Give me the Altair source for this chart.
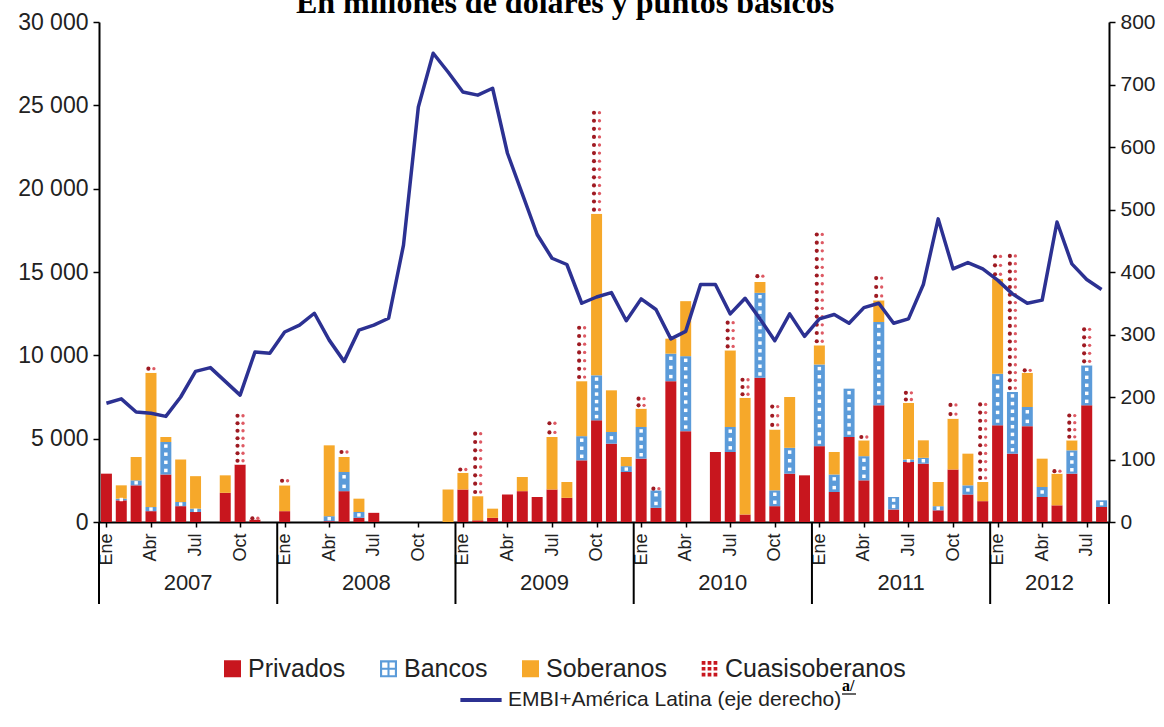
import altair as alt
import pandas as pd

# Monthly issues, Jan 2007 - Aug 2012 (millions of dollars)
privados = [
    2900, 1300, 2200, 650, 2850, 950, 600, 0, 1750, 3450, 150, 0,
    650, 0, 0, 50, 1850, 250, 550, 0, 0, 0, 0, 0,
    1950, 100, 250, 1650, 1850, 1500, 1950, 1450, 3700, 6100, 4700, 3000,
    3800, 850, 8450, 5450, 0, 4200, 4200, 450, 8650, 950, 2900, 2800,
    4550, 1800, 5100, 2500, 7000, 750, 3600, 3500, 700, 3150, 1650, 1250,
    5800, 4100, 5750, 1500, 1000, 2900, 7000, 900,
]
bancos = [
    0, 100, 300, 250, 1950, 250, 200, 0, 0, 0, 0, 0,
    0, 0, 0, 300, 1150, 350, 0, 0, 0, 0, 0, 0,
    0, 0, 0, 0, 0, 0, 0, 0, 1450, 2700, 700, 350,
    1900, 1050, 1650, 4500, 0, 0, 1500, 0, 5100, 950, 1550, 0,
    4900, 1050, 2900, 1450, 5000, 750, 150, 350, 250, 0, 550, 0,
    3100, 3700, 1150, 600, 0, 1400, 2400, 400,
]
soberanos = [
    0, 800, 1400, 8050, 300, 2550, 1950, 0, 1050, 0, 0, 0,
    1550, 0, 0, 4250, 900, 800, 0, 0, 0, 0, 0, 1950,
    1000, 1450, 550, 0, 850, 0, 3150, 950, 3300, 9700, 2500, 550,
    1100, 0, 900, 3300, 0, 0, 4600, 7000, 650, 3650, 3050, 0,
    1150, 1350, 0, 950, 1300, 0, 3400, 1050, 1450, 3050, 1900, 1150,
    5700, 0, 2050, 1700, 1900, 600, 0, 0,
]
cuasisoberanos = [
    0, 0, 0, 500, 0, 0, 0, 0, 0, 3150, 150, 0,
    550, 0, 0, 0, 600, 0, 0, 0, 0, 0, 0, 0,
    400, 4000, 0, 0, 0, 0, 1100, 0, 3450, 6300, 0, 0,
    800, 200, 0, 0, 0, 0, 1900, 1300, 700, 1650, 0, 0,
    6900, 0, 0, 400, 1600, 0, 800, 0, 0, 1100, 0, 4900,
    1600, 8400, 300, 0, 300, 1700, 2400, 0,
]
# EMBI+ Latin America spread (basis points, right axis)
embi = [
    190, 197, 176, 174, 169, 200, 241, 247, 225, 203, 272, 270,
    304, 315, 334, 291, 257, 307, 315, 326, 443, 664, 750, 720,
    688, 683, 694, 590, 525, 460, 422, 412, 350, 360, 367, 322,
    357, 340, 293, 305, 380, 380, 333, 358, 325, 290, 333, 297,
    325, 332, 318, 343, 350, 318, 325, 380, 485, 405, 415, 405,
    387, 365, 350, 355, 480, 413, 388, 372,
]
years = ["2007", "2008", "2009", "2010", "2011", "2012"]
month_labels = ["Ene", "Abr", "Jul", "Oct"]

SERIES = ["Privados", "Bancos", "Soberanos", "Cuasisoberanos"]
FILLS = {"Privados": "#C8161E", "Bancos": "#5B9BD9",
         "Soberanos": "#F6A82A", "Cuasisoberanos": "#FFFFFF"}
LINE_NAME = "EMBI+América Latina (eje derecho)"
FONT = "Liberation Sans"
SERIF = "Liberation Serif"
DOT_PITCH = 480  # spacing of pattern dots, in data units

n = len(privados)
bar_rows, bank_dots, quasi_dots = [], [], []
for i in range(n):
    base = 0
    for name, vals in zip(SERIES, [privados, bancos, soberanos, cuasisoberanos]):
        v = vals[i]
        if v <= 0:
            continue
        bar_rows.append(dict(serie=name, x0=i + 0.13, x1=i + 0.87,
                             y0=base, y1=base + v, fill=FILLS[name]))
        if name in ("Bancos", "Cuasisoberanos"):
            count = max(1, round(v / DOT_PITCH))
            for j in range(count):
                pt = dict(x0=i + 0.5, y0=base + (j + 0.5) * v / count)
                (bank_dots if name == "Bancos" else quasi_dots).append(pt)
        base += v

bars_df = pd.DataFrame(bar_rows)
bank_df = pd.DataFrame(bank_dots)
quasi_df = pd.DataFrame(quasi_dots)
line_df = pd.DataFrame({"x0": [i + 0.5 for i in range(n)], "embi": embi,
                        "name": LINE_NAME})
bounds_df = pd.DataFrame({"x0": [0, 12, 24, 36, 48, 60, n]})
year_df = pd.DataFrame({"year": years,
                        "x0": [(k * 12 + min(k * 12 + 12, n)) / 2 for k in range(len(years))]})
legend_df = pd.DataFrame({"serie": SERIES})

W, H = 1010, 500
xscale = alt.Scale(domain=[0, n], nice=False, zero=False)
yscale = alt.Scale(domain=[0, 30000], nice=False)

month_ticks = [m + 0.5 for m in range(0, n, 3)]
x_axis = alt.Axis(
    values=month_ticks, title=None, grid=False,
    labelExpr="['Ene','Abr','Jul','Oct'][floor(((datum.value - 0.5) % 12) / 3)]",
    labelAngle=270, labelFontSize=18, labelFont=FONT, labelColor="#222222",
    labelPadding=6, tickSize=5, tickWidth=1.5, tickColor="#000000",
    domainColor="#000000", domainWidth=2,
)
left_axis = alt.Axis(
    values=list(range(0, 30001, 5000)), title=None, grid=False,
    labelExpr="replace(format(datum.value, ','), ',', ' ')",
    labelFontSize=23, labelFont=FONT, labelColor="#222222", labelPadding=5,
    tickSize=6, tickWidth=1.5, tickColor="#000000",
    domainColor="#000000", domainWidth=2,
)
right_axis = alt.Axis(
    orient="right", values=list(range(0, 801, 100)), title=None, grid=False,
    labelFontSize=21, labelFont=FONT, labelColor="#222222", labelPadding=5,
    tickSize=6, tickWidth=1.5, tickColor="#000000",
    domainColor="#000000", domainWidth=2,
)


def xenc():
    return alt.X("x0:Q", scale=xscale, axis=x_axis)


def yenc():
    return alt.Y("y0:Q", scale=yscale, axis=left_axis)


bars = alt.Chart(bars_df).mark_bar(strokeWidth=0).encode(
    x=xenc(), x2="x1:Q", y=yenc(), y2="y1:Q",
    fill=alt.Fill("fill:N", scale=None),
)

bank_marks = alt.Chart(bank_df).mark_square(size=12, color="#FFFFFF", opacity=1).encode(
    x=xenc(), y=yenc())
quasi_left = alt.Chart(quasi_df).mark_circle(
    size=17, color="#9E1A22", opacity=1, xOffset=-2.6).encode(x=xenc(), y=yenc())
quasi_right = alt.Chart(quasi_df).mark_circle(
    size=11, color="#DE5A64", opacity=1, xOffset=2.9).encode(x=xenc(), y=yenc())

# Legend symbols: plain squares, a blue square with four windows, a grid of dots
SQUARE = "M-1,-1H1V1H-1Z"
WINDOWS = (SQUARE +
           "M-0.75,-0.75V-0.12H-0.12V-0.75Z"
           "M0.12,-0.75V-0.12H0.75V-0.75Z"
           "M-0.75,0.12V0.75H-0.12V0.12Z"
           "M0.12,0.12V0.75H0.75V0.12Z")
DOTS = "".join(
    f"M{cx - 0.22:.2f},{cy - 0.22:.2f}H{cx + 0.22:.2f}V{cy + 0.22:.2f}H{cx - 0.22:.2f}Z"
    for cx in (-0.7, 0, 0.7) for cy in (-0.7, 0, 0.7)
)
series_legend = alt.Legend(
    title=None, orient="none", direction="horizontal", legendX=121, legendY=634,
    symbolSize=289, symbolStrokeWidth=0, labelFontSize=25, labelFont=FONT,
    labelColor="#222222", labelOffset=3, columnPadding=30, labelLimit=0)
legend_marks = alt.Chart(legend_df).mark_point(filled=True, opacity=1).encode(
    fill=alt.Fill("serie:N", scale=alt.Scale(
        domain=SERIES, range=["#C8161E", "#5B9BD9", "#F6A82A", "#C8161E"]),
        legend=series_legend),
    shape=alt.Shape("serie:N", scale=alt.Scale(
        domain=SERIES, range=[SQUARE, WINDOWS, SQUARE, DOTS]),
        legend=series_legend),
).transform_filter("false")

left_group = alt.layer(bars, bank_marks, quasi_left, quasi_right, legend_marks)

line = alt.Chart(line_df).mark_line(strokeWidth=3.5, strokeJoin="round").encode(
    x=xenc(),
    y=alt.Y("embi:Q", scale=alt.Scale(domain=[0, 800], nice=False), axis=right_axis),
    stroke=alt.Stroke("name:N", scale=alt.Scale(domain=[LINE_NAME], range=["#2C3192"]),
                      legend=alt.Legend(title=None, orient="none", legendX=359, legendY=655,
                                        symbolType="stroke", symbolStrokeWidth=4,
                                        symbolSize=1700, labelFontSize=21, labelFont=FONT,
                                        labelColor="#222222", labelOffset=4, labelLimit=0)),
)

separators = alt.Chart(bounds_df).mark_rule(color="#000000", strokeWidth=2).encode(
    x=xenc(), y=alt.value(H), y2=alt.value(H + 82))
year_text = alt.Chart(year_df).mark_text(
    font=FONT, fontSize=22, color="#222222", baseline="middle").encode(
    x=xenc(), y=alt.value(H + 61), text="year:N")

title_df = pd.DataFrame({"t": ["En millones de dólares y puntos básicos"]})
title_text = alt.Chart(title_df).mark_text(
    font=SERIF, fontSize=32, fontWeight="bold", color="#000000",
    baseline="alphabetic", align="center").encode(
    x=alt.value(466), y=alt.value(-9), text="t:N")

note_df = pd.DataFrame({"t": ["a/"]})
note_text = alt.Chart(note_df).mark_text(
    font=SERIF, fontSize=16, fontWeight="bold", color="#000000",
    baseline="alphabetic", align="left").encode(
    x=alt.value(743), y=alt.value(669), text="t:N")
note_rule = alt.Chart(note_df).mark_rule(color="#000000", strokeWidth=1.2).encode(
    x=alt.value(743), x2=alt.value(757), y=alt.value(672))

chart = alt.layer(
    left_group, line, separators, year_text, title_text, note_text, note_rule
).resolve_scale(y="independent").properties(
    width=W, height=H,
    autosize=alt.AutoSizeParams(type="none"),
    padding={"left": 99, "top": 22, "right": 55, "bottom": 205},
    background="#FFFFFF",
).configure_view(stroke=None)

chart.save("out.html", embed_options={"renderer": "svg", "actions": False})
